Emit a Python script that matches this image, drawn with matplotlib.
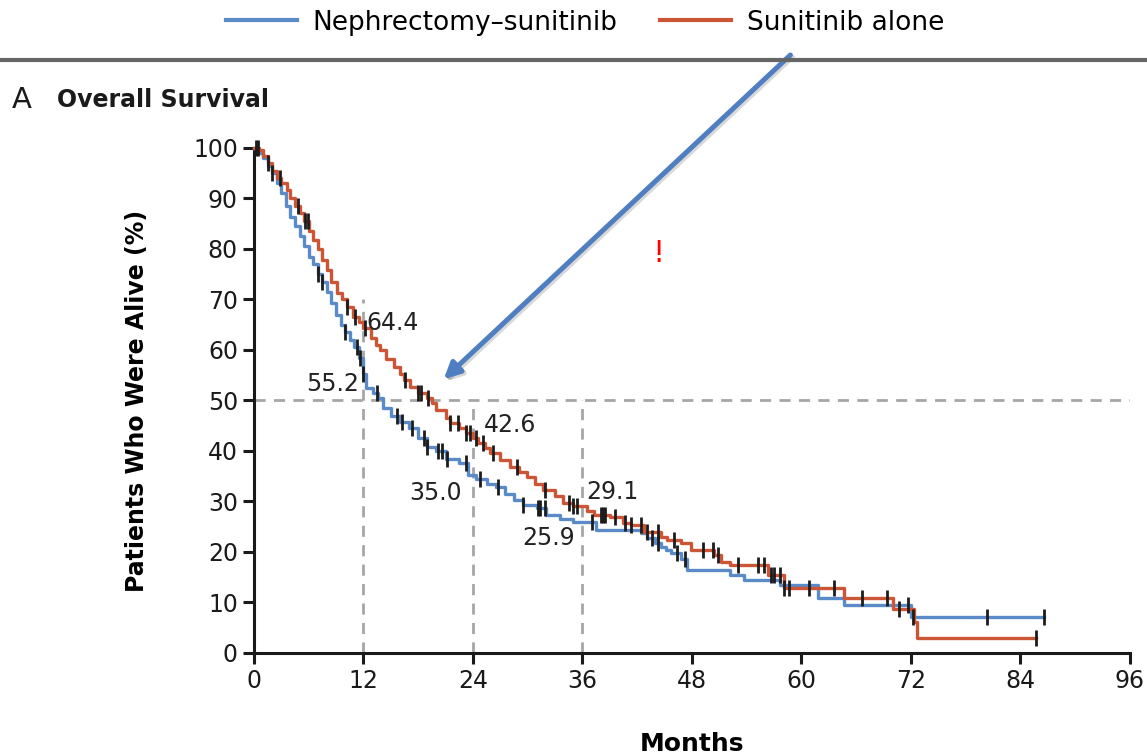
import matplotlib
matplotlib.use("Agg")
import matplotlib.pyplot as plt
import matplotlib.patheffects as pe
from matplotlib.lines import Line2D
import numpy as np

# Kaplan-Meier step data (months, % alive)
neph_t = [0, 0.5, 1.0, 1.5, 2.0, 2.5, 3.0, 3.5, 4.0, 4.5, 5.0, 5.5, 6.0, 6.5, 7.0, 7.5,
          8.0, 8.5, 9.0, 9.5, 10.0, 10.5, 11.0, 11.5, 12.0, 12.3, 13.0, 13.6, 14.2, 15.0,
          16.0, 17.0, 18.0, 19.0, 20.0, 21.0, 22.5, 23.5, 24.3, 25.5, 26.5, 27.5, 28.5,
          29.5, 31.0, 32.0, 33.5, 35.0, 37.5, 42.4, 43.1, 44.0, 44.6, 45.2, 45.7, 46.8,
          47.5, 52.2, 53.7, 57.7, 61.8, 64.7, 72.0, 86.6]
neph_s = [100, 99, 98, 96.5, 95, 93, 91, 88.5, 86.4, 84.5, 82.5, 80.5, 78.5, 77, 75, 73.5,
          71.5, 69.2, 67, 65, 63.5, 62, 60.5, 58.5, 55.2, 52.5, 51.5, 50.5, 48.5, 47,
          45.8, 44.5, 42.5, 40.8, 40, 38.4, 37.6, 35.2, 34.4, 33.5, 32.8, 31.5, 30.3,
          29.3, 28.7, 27.3, 26.5, 25.9, 24.4, 23.7, 22.7, 21.8, 21.0, 20.3, 19.7, 18.7,
          16.4, 15.4, 14.5, 13.5, 10.8, 9.5, 7.2, 7.2]

sun_t = [0, 0.5, 1.0, 1.5, 2.0, 2.5, 3.0, 3.6, 4.0, 4.5, 5.1, 5.5, 6.0, 6.5, 7.0, 7.5,
         8.0, 8.5, 9.1, 9.6, 10.2, 10.9, 11.5, 12.0, 12.8, 13.4, 13.8, 14.5, 15.3, 16.0,
         16.5, 17.1, 18.0, 19.0, 19.5, 20.0, 21.0, 21.5, 22.5, 23.2, 24.0, 24.6, 25.3,
         25.9, 27.0, 28.1, 29.0, 29.9, 30.8, 31.7, 33.0, 33.9, 35.0, 36.5, 37.3, 39.0,
         40.5, 41.3, 42.7, 44.6, 45.3, 46.8, 47.9, 50.4, 51.2, 52.2, 56.3, 58.1, 64.7,
         70.0, 72.4, 72.7, 85.7]
sun_s = [100, 99.5, 98.5, 97, 95.5, 94, 93, 91.7, 90, 88.5, 87.1, 85.5, 83.5, 81.8, 80, 77.8,
         75.8, 73.5, 71.2, 70, 68.5, 66.6, 65.5, 64.4, 62.3, 61, 60, 58.2, 56.7, 55.2,
         54, 52.7, 51.5, 50.5, 49.5, 48.1, 46.5, 45.5, 44.5, 43.5, 42.6, 41.5, 40.5,
         39.5, 38.3, 36.9, 35.8, 34.9, 33.5, 32.3, 31.0, 29.6, 29.1, 28.2, 27.4, 27.0,
         25.7, 25.3, 24.0, 23.0, 22.4, 21.7, 20.4, 19.4, 18.1, 17.4, 15.4, 12.8, 10.8,
         8.8, 6.1, 2.9, 2.9]

# censoring times
neph_cens = [0.2, 2.0, 7.0, 7.5, 10.0, 11.3, 11.6, 12.0, 13.5, 15.7, 16.2, 17.3, 18.6, 19.0,
             20.2, 20.6, 21.2, 23.2, 24.8, 26.8, 29.5, 31.1, 31.4, 31.9, 37.1, 43.6, 44.3,
             46.4, 47.3, 71.7, 72.2, 80.3, 86.6]
sun_cens = [0.4, 1.5, 2.9, 4.8, 5.6, 5.9, 10.2, 11.1, 12.2, 16.6, 18.0, 18.3, 19.1, 21.5,
            22.4, 23.2, 23.7, 24.3, 25.1, 26.2, 28.8, 31.9, 34.5, 35.0, 35.4, 38.0, 38.3,
            38.5, 39.6, 40.7, 41.3, 42.4, 43.1, 44.3, 46.0, 49.2, 50.3, 50.9, 53.1, 55.2,
            55.9, 56.7, 57.0, 57.7, 58.1, 58.6, 60.8, 63.6, 66.7, 69.4, 70.7, 85.7]

# landmark survival values at 12, 24, 36 months
marks_t = [12, 24, 36]
marks_neph = ["55.2", "35.0", "25.9"]
marks_sun = ["64.4", "42.6", "29.1"]

blue = "#5b8ac8"
red = "#cc5535"


def step_at(ts, ss, c):
    i = np.searchsorted(ts, c, side="right") - 1
    return np.asarray(ss)[i]


fig = plt.figure(figsize=(11.47, 7.54), dpi=100)
ax = fig.add_axes([0.2214, 0.134, 0.7636, 0.6698])

# reference lines
dash = dict(color="#a6a6a6", lw=2, ls=(0, (4, 3)), zorder=1)
ax.plot([0, 96], [50, 50], **dash)
ax.plot([12, 12], [0, 70], **dash)
ax.plot([24, 24], [0, 50], **dash)
ax.plot([36, 36], [0, 50], **dash)

ax.step(neph_t, neph_s, where="post", color=blue, lw=2.4, zorder=3, clip_on=False)
ax.step(sun_t, sun_s, where="post", color=red, lw=2.4, zorder=3, clip_on=False)

ax.plot(neph_cens, step_at(neph_t, neph_s, neph_cens), ls="none", marker="|",
        ms=11, mew=2.0, color="#1c1c1c", zorder=4, clip_on=False)
ax.plot(sun_cens, step_at(sun_t, sun_s, sun_cens), ls="none", marker="|",
        ms=11, mew=2.0, color="#1c1c1c", zorder=4, clip_on=False)

lab = dict(fontsize=17, color="#222222")
ax.text(marks_t[0] + 0.3, 65.3, marks_sun[0], ha="left", va="center", **lab)
ax.text(marks_t[0] - 0.5, 53.2, marks_neph[0], ha="right", va="center", **lab)
ax.text(marks_t[1] + 1.2, 45.2, marks_sun[1], ha="left", va="center", **lab)
ax.text(marks_t[1] - 1.2, 31.7, marks_neph[1], ha="right", va="center", **lab)
ax.text(marks_t[2] + 0.4, 31.9, marks_sun[2], ha="left", va="center", **lab)
ax.text(marks_t[2] - 0.8, 22.8, marks_neph[2], ha="right", va="center", **lab)

ax.text(44.3, 79, "!", color="red", fontsize=22, ha="center", va="center")

ax.annotate("", xy=(20.8, 54.2), xytext=(58.8, 118.4), annotation_clip=False,
            arrowprops=dict(arrowstyle="-|>", lw=3.6, color="#4f7fc0", mutation_scale=24,
                            shrinkA=0, shrinkB=0,
                            path_effects=[pe.SimpleLineShadow(offset=(1.5, -1.5), alpha=0.15),
                                          pe.Normal()]),
            zorder=6)

ax.set_xlim(0, 96)
ax.set_ylim(0, 100)
ax.set_xticks(range(0, 97, 12))
ax.set_yticks(range(0, 101, 10))
ax.spines["top"].set_visible(False)
ax.spines["right"].set_visible(False)
for s in ("left", "bottom"):
    ax.spines[s].set_linewidth(2.2)
    ax.spines[s].set_color("#1a1a1a")
ax.tick_params(direction="out", length=8, width=2.2, labelsize=17, colors="#1a1a1a")
ax.set_xlabel("Months", fontsize=18, fontweight="bold", labelpad=28)
ax.set_ylabel("Patients Who Were Alive (%)", fontsize=17, fontweight="bold", labelpad=32)

# header
handles = [Line2D([], [], color=blue, lw=3), Line2D([], [], color=red, lw=3)]
fig.legend(handles, ["Nephrectomy\u2013sunitinib", "Sunitinib alone"], loc="center",
           bbox_to_anchor=(0.51, 0.97), ncol=2, frameon=False, fontsize=19,
           handlelength=2.7, handletextpad=0.6, columnspacing=1.6)
fig.add_artist(Line2D([0, 1], [0.921, 0.921], color="#666666", lw=3))
fig.text(0.01, 0.868, "A", fontsize=21, va="center", color="#1a1a1a")
fig.text(0.05, 0.868, "Overall Survival", fontsize=17, fontweight="bold", va="center",
         color="#1a1a1a")

fig.savefig("out.png", dpi=100)
